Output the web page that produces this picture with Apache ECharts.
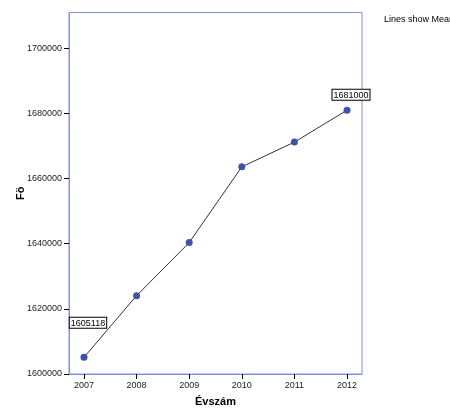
<!DOCTYPE html>
<html>
<head>
<meta charset="utf-8">
<script src="https://cdn.jsdelivr.net/npm/echarts@6/dist/echarts.min.js"></script>
<style>
html,body{margin:0;padding:0;background:#fff;}
#chart{width:450px;height:408px;}
</style>
</head>
<body>
<div id="chart"></div>
<script>
const years = [2007, 2008, 2009, 2010, 2011, 2012];
const values = [1605118, 1624050, 1640350, 1663600, 1671200, 1681000];
const yTicks = [1600000, 1620000, 1640000, 1660000, 1680000, 1700000];
const labeledYears = [2007, 2012];

const FONT = '"Liberation Sans", Arial, sans-serif';
const chart = echarts.init(document.getElementById('chart'), null, {renderer: 'canvas'});

const data = years.map((y, i) => {
  const item = {value: [y, values[i]]};
  if (labeledYears.includes(y)) {
    item.label = {
      show: true,
      position: 'top',
      offset: y === 2007 ? [4, -21] : [4, -2],
      formatter: String(values[i]),
      fontFamily: FONT,
      fontSize: 9,
      color: '#000',
      backgroundColor: '#fff',
      borderColor: '#000',
      borderWidth: 1,
      padding: [1, 1, 0, 1]
    };
  }
  return item;
});

chart.setOption({
  animation: false,
  backgroundColor: '#fff',
  grid: {left: 69, right: 88, top: 12.5, bottom: 34, outerBoundsMode: 'none', containLabel: false, show: true, borderColor: '#7f92d6', borderWidth: 1, backgroundColor: 'transparent'},
  graphic: [{
    type: 'text', left: 384, top: 15,
    style: {text: 'Lines show Mean', font: '9px ' + FONT, fill: '#000'}
  }],
  xAxis: {
    type: 'value', min: 2006.715, max: 2012.285,
    name: 'Évszám', nameLocation: 'middle', nameGap: 22, nameMoveOverlap: false,
    nameTextStyle: {fontFamily: FONT, fontSize: 11, fontWeight: 'bold', color: '#000'},
    axisLine: {show: true, lineStyle: {color: '#7f92d6', width: 1}},
    axisTick: {show: true, length: 5, customValues: years, lineStyle: {color: '#000'}},
    axisLabel: {customValues: years, margin: 7, fontFamily: FONT, fontSize: 9, color: '#222', formatter: v => String(v)},
    splitLine: {show: false}
  },
  yAxis: {
    type: 'value', min: 1600000, max: 1711000,
    name: 'Fö', nameLocation: 'middle', nameGap: 43, nameMoveOverlap: false,
    nameTextStyle: {fontFamily: FONT, fontSize: 11, fontWeight: 'bold', color: '#000'},
    axisLine: {show: true, lineStyle: {color: '#7f92d6', width: 1}},
    axisTick: {show: true, length: 5, customValues: yTicks, lineStyle: {color: '#000'}},
    axisLabel: {customValues: yTicks, margin: 7, fontFamily: FONT, fontSize: 9, color: '#222', formatter: v => String(v)},
    splitLine: {show: false}
  },
  series: [{
    type: 'line',
    data: data,
    symbol: 'circle',
    symbolSize: 7,
    itemStyle: {color: '#3b54a8'},
    lineStyle: {color: '#333', width: 1},
    label: {show: false}
  }]
});
</script>
</body>
</html>
